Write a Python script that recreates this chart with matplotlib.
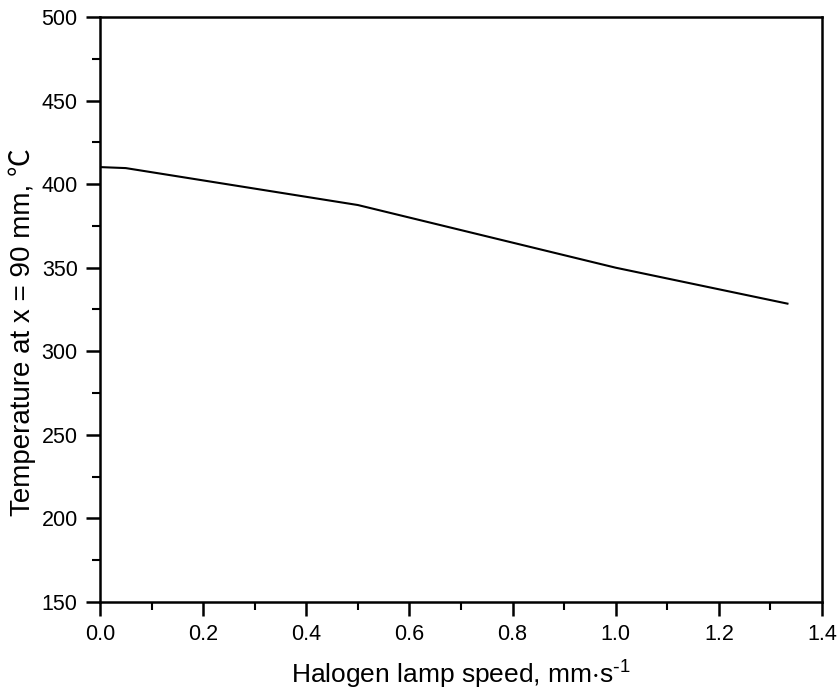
import matplotlib
matplotlib.use('Agg')
import matplotlib.pyplot as plt
from matplotlib.ticker import MultipleLocator

plt.rcParams['font.family'] = ['Liberation Sans', 'Noto Sans CJK SC', 'DejaVu Sans']
plt.rcParams['mathtext.default'] = 'regular'

# Data
speed = [0.0, 0.05, 0.5, 1.0, 1.333]
temperature = [410.2, 409.6, 387.5, 350.0, 328.5]

fig = plt.figure(figsize=(8.4, 6.94), dpi=100)
ax = fig.add_axes([0.119, 0.1326, 0.8596, 0.8429])

ax.plot(speed, temperature, color='black', linewidth=1.5)

ax.set_xlim(0.0, 1.4)
ax.set_ylim(150, 500)
ax.xaxis.set_major_locator(MultipleLocator(0.2))
ax.xaxis.set_minor_locator(MultipleLocator(0.1))
ax.yaxis.set_major_locator(MultipleLocator(50))
ax.yaxis.set_minor_locator(MultipleLocator(25))
ax.xaxis.set_major_formatter(plt.FormatStrFormatter('%.1f'))

ax.tick_params(which='major', direction='out', length=10, width=1.8, labelsize=15.5, pad=6)
ax.tick_params(which='minor', direction='out', length=6, width=1.5)
ax.tick_params(top=False, right=False, which='both')
for s in ax.spines.values():
    s.set_linewidth(1.8)

ax.set_xlabel('Halogen lamp speed, mm$\\cdot$s$^{\\text{-}1}$', fontsize=19, labelpad=10)
ax.set_ylabel('Temperature at x = 90 mm, \u2103', fontsize=20)
ax.yaxis.set_label_coords(-0.089, 0.462)

fig.savefig('out.png', dpi=100)
